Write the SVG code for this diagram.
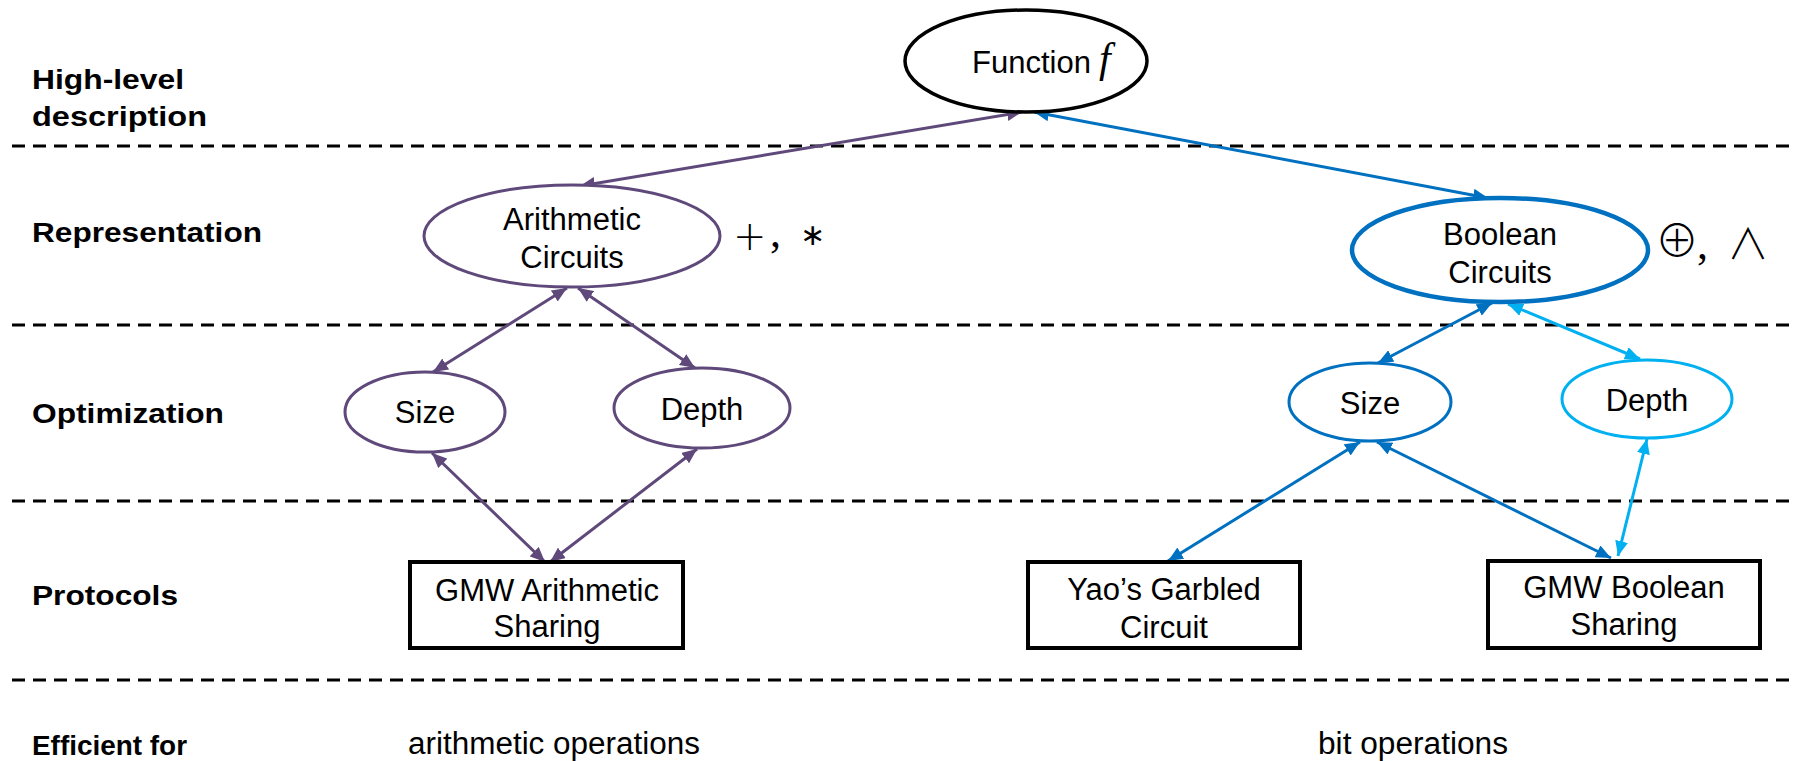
<svg xmlns="http://www.w3.org/2000/svg" width="1794" height="761" viewBox="0 0 1794 761">
  <style>
    .layer { font-family: "Liberation Sans", Arial, sans-serif; font-weight: bold; font-size: 27px; fill: #000; }
    .txt { font-family: "Liberation Sans", Arial, sans-serif; font-size: 31px; fill: #000; }
    .mid { text-anchor: middle; }
    .math { font-family: "DejaVu Sans", sans-serif; fill: #000; }
    .thin { font-weight: 200; }
    .op { font-family: "Noto Sans CJK SC", "DejaVu Sans", sans-serif; font-weight: 300; fill: #000; }
    .serif { font-family: "Liberation Serif", "Times New Roman", serif; fill: #000; }
    .sep { stroke: #000; stroke-width: 3; stroke-dasharray: 13 8; fill: none; }
    .node { fill: #fff; }
    .purple { stroke: #5F497A; }
    .blue { stroke: #0070C0; }
    .cyan { stroke: #00B0F0; }
    .link { fill: none; stroke-width: 3; }
    .link.purple { marker-start: url(#ahP); marker-end: url(#ahP); }
    .link.blue { marker-start: url(#ahB); marker-end: url(#ahB); }
    .link.cyan { marker-start: url(#ahC); marker-end: url(#ahC); }
    .box { fill: #fff; stroke: #000; stroke-width: 4; }
  </style>
  <defs>
    <marker id="ahP" viewBox="0 0 15 13" refX="15" refY="6.5" markerWidth="15" markerHeight="13" markerUnits="userSpaceOnUse" orient="auto-start-reverse">
      <path d="M0,0 L15,6.5 L0,13 z" fill="#5F497A"/>
    </marker>
    <marker id="ahB" viewBox="0 0 15 13" refX="15" refY="6.5" markerWidth="15" markerHeight="13" markerUnits="userSpaceOnUse" orient="auto-start-reverse">
      <path d="M0,0 L15,6.5 L0,13 z" fill="#0070C0"/>
    </marker>
    <marker id="ahC" viewBox="0 0 15 13" refX="15" refY="6.5" markerWidth="15" markerHeight="13" markerUnits="userSpaceOnUse" orient="auto-start-reverse">
      <path d="M0,0 L15,6.5 L0,13 z" fill="#00B0F0"/>
    </marker>
  </defs>

  <rect width="1794" height="761" fill="#fff"/>

  <!-- layer separators and row titles -->
  <g id="layers">
    <line class="sep" x1="12" y1="146" x2="1794" y2="146"/>
    <line class="sep" x1="12" y1="325" x2="1794" y2="325"/>
    <line class="sep" x1="12" y1="501" x2="1794" y2="501"/>
    <line class="sep" x1="12" y1="680" x2="1794" y2="680"/>
    <text class="layer" x="32" y="89" textLength="152" lengthAdjust="spacingAndGlyphs">High-level</text>
    <text class="layer" x="32" y="126" textLength="175" lengthAdjust="spacingAndGlyphs">description</text>
    <text class="layer" x="32" y="242" textLength="230" lengthAdjust="spacingAndGlyphs">Representation</text>
    <text class="layer" x="32" y="423" textLength="192" lengthAdjust="spacingAndGlyphs">Optimization</text>
    <text class="layer" x="32" y="605" textLength="146" lengthAdjust="spacingAndGlyphs">Protocols</text>
    <text class="layer" x="32" y="755" font-size="29" textLength="155" lengthAdjust="spacingAndGlyphs">Efficient for</text>
    <text class="txt" x="408" y="754" font-size="34" textLength="292" lengthAdjust="spacingAndGlyphs">arithmetic operations</text>
    <text class="txt" x="1318" y="754" font-size="34" textLength="190" lengthAdjust="spacingAndGlyphs">bit operations</text>
  </g>

  <!-- connectors (double-headed) -->
  <g id="connectors">
    <line class="link purple" x1="1022" y1="112" x2="580" y2="186"/>
    <line class="link purple" x1="567" y1="288" x2="433" y2="372"/>
    <line class="link purple" x1="578" y1="288" x2="695" y2="368"/>
    <line class="link purple" x1="432" y1="453" x2="545" y2="562"/>
    <line class="link purple" x1="697" y1="449" x2="550" y2="562"/>
    <line class="link blue" x1="1034" y1="112" x2="1488" y2="198"/>
    <line class="link blue" x1="1492" y1="303" x2="1378" y2="363"/>
    <line class="link blue" x1="1360" y1="442" x2="1168" y2="561"/>
    <line class="link blue" x1="1377" y1="442" x2="1611" y2="558"/>
    <line class="link cyan" x1="1508" y1="304" x2="1640" y2="359"/>
    <line class="link cyan" x1="1647" y1="439" x2="1618" y2="556"/>
  </g>

  <g id="function">
    <ellipse class="node" cx="1026" cy="61" rx="121" ry="51" stroke="#000" stroke-width="3.5"/>
    <text class="txt" x="972" y="73">Function</text>
    <text class="serif" x="1099" y="72" font-style="italic" font-size="42">f</text>
  </g>

  <g id="arithmetic-circuits">
    <ellipse class="node purple" cx="572" cy="236" rx="148" ry="51" stroke-width="3"/>
    <text class="txt mid" x="572" y="230">Arithmetic</text>
    <text class="txt mid" x="572" y="268">Circuits</text>
    <text class="math thin" x="733" y="250" font-size="40">+</text>
    <text class="serif" x="770" y="247" font-size="44">,</text>
    <text class="math" x="800" y="245" font-size="30">∗</text>
  </g>

  <g id="boolean-circuits">
    <ellipse class="node blue" cx="1500" cy="250" rx="148" ry="52" stroke-width="4.5"/>
    <text class="txt mid" x="1500" y="245">Boolean</text>
    <text class="txt mid" x="1500" y="283">Circuits</text>
    <text class="op" x="1655" y="257" font-size="44">⊕</text>
    <text class="serif" x="1697" y="259" font-size="44">,</text>
    <text class="op" x="1727" y="259" font-size="42">∧</text>
  </g>

  <g id="arith-size">
    <ellipse class="node purple" cx="425" cy="412" rx="80" ry="40" stroke-width="3"/>
    <text class="txt mid" x="425" y="423">Size</text>
  </g>

  <g id="arith-depth">
    <ellipse class="node purple" cx="702" cy="408" rx="88" ry="40" stroke-width="3"/>
    <text class="txt mid" x="702" y="420">Depth</text>
  </g>

  <g id="bool-size">
    <ellipse class="node blue" cx="1370" cy="402" rx="81" ry="39" stroke-width="3"/>
    <text class="txt mid" x="1370" y="414">Size</text>
  </g>

  <g id="bool-depth">
    <ellipse class="node cyan" cx="1647" cy="399" rx="85" ry="39" stroke-width="3"/>
    <text class="txt mid" x="1647" y="411">Depth</text>
  </g>

  <g id="gmw-arithmetic">
    <rect class="box" x="410" y="562" width="273" height="86"/>
    <text class="txt mid" x="547" y="601">GMW Arithmetic</text>
    <text class="txt mid" x="547" y="637">Sharing</text>
  </g>

  <g id="yao-garbled">
    <rect class="box" x="1028" y="562" width="272" height="86"/>
    <text class="txt mid" x="1164" y="600">Yao’s Garbled</text>
    <text class="txt mid" x="1164" y="638">Circuit</text>
  </g>

  <g id="gmw-boolean">
    <rect class="box" x="1488" y="561" width="272" height="87"/>
    <text class="txt mid" x="1624" y="598">GMW Boolean</text>
    <text class="txt mid" x="1624" y="635">Sharing</text>
  </g>
</svg>
